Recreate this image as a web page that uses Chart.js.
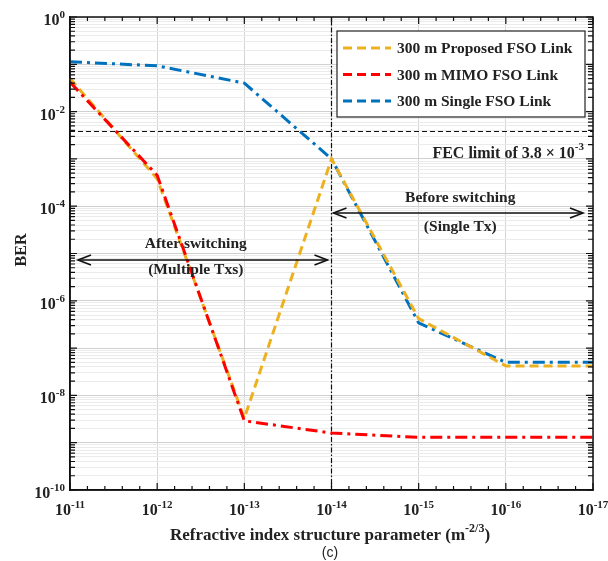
<!DOCTYPE html>
<html>
<head>
<meta charset="utf-8">
<script src="https://cdn.jsdelivr.net/npm/chart.js@4.4.0/dist/chart.umd.min.js"></script>
<style>
html,body{margin:0;padding:0;background:#fff;}
#wrap{width:608px;height:561px;position:relative;}
</style>
</head>
<body>
<div id="wrap"><canvas id="c" width="608" height="561"></canvas></div>
<script>
// ---- data ----
const xExponents = [-11, -12, -13, -14, -15, -16, -17];
const xLabels = xExponents.map(e => '10^' + e);
const proposedBER = [5.0e-2, 3.8e-4, 3.3e-9, 1.0e-3, 4.2e-7, 4.2e-8, 4.2e-8];
const mimoBER     = [4.2e-2, 4.5e-4, 2.9e-9, 1.6e-9, 1.3e-9, 1.3e-9, 1.3e-9];
const singleBER   = [1.13e-1, 9.3e-2, 4.0e-2, 1.0e-3, 3.4e-7, 5.0e-8, 5.0e-8];
const seriesNames = ['300 m Proposed FSO Link', '300 m MIMO FSO Link', '300 m Single FSO Link'];
const yTickExponents = [0, -2, -4, -6, -8, -10];
const yMinExp = -10, yMaxExp = 0;
const fecLimit = 3.8e-3;
const switchIndex = 3;
const afterArrowY = 7.3e-6;
const beforeArrowY = 7.2e-5;

const SERIF = '"Liberation Serif", "Times New Roman", serif';
const COLORS = ['#EDB120', '#FF0000', '#0072BD'];
const DASHES = [[9, 5], [12, 5, 3, 5], [12, 5, 3, 5]];

function drawPow(ctx, x, y, exp, align, baseSize, expSize, rise) {
  ctx.save();
  ctx.fillStyle = '#222';
  ctx.textBaseline = 'alphabetic';
  ctx.font = 'bold ' + baseSize + 'px ' + SERIF;
  const w1 = ctx.measureText('10').width;
  ctx.font = 'bold ' + expSize + 'px ' + SERIF;
  const eStr = String(exp);
  const w2 = ctx.measureText(eStr).width;
  let x0;
  if (align === 'center') x0 = x - (w1 + w2) / 2;
  else if (align === 'right') x0 = x - (w1 + w2);
  else x0 = x;
  ctx.textAlign = 'left';
  ctx.font = 'bold ' + baseSize + 'px ' + SERIF;
  ctx.fillText('10', x0, y);
  ctx.font = 'bold ' + expSize + 'px ' + SERIF;
  ctx.fillText(eStr, x0 + w1, y - rise);
  ctx.restore();
}

function arrowHead(ctx, x, y, dir) {
  ctx.beginPath();
  ctx.moveTo(x + dir * 13, y - 5);
  ctx.lineTo(x, y);
  ctx.lineTo(x + dir * 13, y + 5);
  ctx.stroke();
}

const decorPlugin = {
  id: 'decor',
  beforeDatasetsDraw(chart) {
    const {ctx, chartArea: a, scales: {x, y}} = chart;
    ctx.save();
    ctx.strokeStyle = '#111';
    ctx.lineWidth = 1.2;
    ctx.setLineDash([5, 3]);
    const fy = y.getPixelForValue(fecLimit);
    ctx.beginPath(); ctx.moveTo(a.left, fy); ctx.lineTo(a.right, fy); ctx.stroke();
    const sx = x.getPixelForValue(switchIndex);
    ctx.setLineDash([5, 2, 1.5, 2]);
    ctx.beginPath(); ctx.moveTo(sx, a.top); ctx.lineTo(sx, a.bottom); ctx.stroke();
    ctx.restore();
  },
  afterDraw(chart) {
    const {ctx, chartArea: a, scales: {x, y}} = chart;
    ctx.save();
    // ticks (inside, all four sides)
    ctx.strokeStyle = '#111';
    ctx.lineWidth = 1.2;
    ctx.setLineDash([]);
    const n = xExponents.length;
    for (let i = 0; i < n; i++) {
      const px = x.getPixelForValue(i);
      ctx.beginPath();
      ctx.moveTo(px, a.bottom); ctx.lineTo(px, a.bottom - 7);
      ctx.moveTo(px, a.top); ctx.lineTo(px, a.top + 7);
      ctx.stroke();
      if (i < n - 1) {
        const nx = x.getPixelForValue(i + 1);
        for (let k = 1; k < 5; k++) {
          const mx = px + (nx - px) * k / 5;
          ctx.beginPath();
          ctx.moveTo(mx, a.bottom); ctx.lineTo(mx, a.bottom - 4);
          ctx.moveTo(mx, a.top); ctx.lineTo(mx, a.top + 4);
          ctx.stroke();
        }
      }
    }
    for (let e = yMinExp; e <= yMaxExp; e++) {
      const py = y.getPixelForValue(Math.pow(10, e));
      ctx.beginPath();
      ctx.moveTo(a.left, py); ctx.lineTo(a.left + 7, py);
      ctx.moveTo(a.right, py); ctx.lineTo(a.right - 7, py);
      ctx.stroke();
      if (e < yMaxExp) {
        for (let k = 2; k <= 9; k++) {
          const my = y.getPixelForValue(k * Math.pow(10, e));
          ctx.beginPath();
          ctx.moveTo(a.left, my); ctx.lineTo(a.left + 5, my);
          ctx.moveTo(a.right, my); ctx.lineTo(a.right - 5, my);
          ctx.stroke();
        }
      }
    }
    // tick labels
    for (let i = 0; i < n; i++) {
      drawPow(ctx, x.getPixelForValue(i), a.bottom + 25, xExponents[i], 'center', 16, 11, 7);
    }
    yTickExponents.forEach(e => {
      drawPow(ctx, a.left - 5, y.getPixelForValue(Math.pow(10, e)) + 8, e, 'right', 16, 11, 7);
    });
    // axis titles
    ctx.fillStyle = '#222';
    ctx.textBaseline = 'alphabetic';
    ctx.font = 'bold 17px ' + SERIF;
    const t1 = 'Refractive index structure parameter (m';
    ctx.textAlign = 'left';
    const w1 = ctx.measureText(t1).width;
    ctx.font = 'bold 12px ' + SERIF;
    const ex = '-2/3';
    const w2 = ctx.measureText(ex).width;
    ctx.font = 'bold 17px ' + SERIF;
    const w3 = ctx.measureText(')').width;
    const tx0 = 330 - (w1 + w2 + w3) / 2;
    const ty = 540;
    ctx.fillText(t1, tx0, ty);
    ctx.font = 'bold 12px ' + SERIF;
    ctx.fillText(ex, tx0 + w1, ty - 8);
    ctx.font = 'bold 17px ' + SERIF;
    ctx.fillText(')', tx0 + w1 + w2, ty);
    ctx.font = '14px "Liberation Sans", Arial, sans-serif';
    ctx.textAlign = 'center';
    ctx.fillText('(c)', 330, 557);
    ctx.save();
    ctx.translate(26, 250);
    ctx.rotate(-Math.PI / 2);
    ctx.font = 'bold 16px ' + SERIF;
    ctx.textAlign = 'center';
    ctx.fillText('BER', 0, 0);
    ctx.restore();

    // arrows & annotations
    const sx = x.getPixelForValue(switchIndex);
    ctx.strokeStyle = '#111';
    ctx.lineWidth = 1.6;
    const ay = y.getPixelForValue(afterArrowY);
    ctx.beginPath(); ctx.moveTo(a.left + 8, ay); ctx.lineTo(sx - 4, ay); ctx.stroke();
    arrowHead(ctx, a.left + 8, ay, 1);
    arrowHead(ctx, sx - 4, ay, -1);
    const by = y.getPixelForValue(beforeArrowY);
    ctx.beginPath(); ctx.moveTo(sx + 2, by); ctx.lineTo(a.right - 10, by); ctx.stroke();
    arrowHead(ctx, sx + 2, by, 1);
    arrowHead(ctx, a.right - 10, by, -1);
    ctx.font = 'bold 15.5px ' + SERIF;
    ctx.textAlign = 'center';
    ctx.textBaseline = 'middle';
    const amid = (a.left + sx) / 2 - 5;
    ctx.fillText('After switching', amid, ay - 16);
    ctx.fillText('(Multiple Txs)', amid, ay + 10);
    const bmid = (sx + a.right) / 2 - 2;
    ctx.fillText('Before switching', bmid, by - 15);
    ctx.fillText('(Single Tx)', bmid, by + 14);
    // FEC label
    const fy = y.getPixelForValue(fecLimit);
    ctx.textBaseline = 'alphabetic';
    ctx.textAlign = 'left';
    ctx.font = 'bold 16px ' + SERIF;
    const f1 = 'FEC limit of 3.8 \u00D7 10';
    const fw1 = ctx.measureText(f1).width;
    ctx.font = 'bold 11px ' + SERIF;
    const fw2 = ctx.measureText('-3').width;
    const fx0 = a.right - 9 - fw1 - fw2;
    ctx.font = 'bold 16px ' + SERIF;
    ctx.fillText(f1, fx0, fy + 27);
    ctx.font = 'bold 11px ' + SERIF;
    ctx.fillText('-3', fx0 + fw1, fy + 19);

    // legend
    const lx = 337, lyTop = 31, lw = 248, lh = 86;
    ctx.fillStyle = '#fff';
    ctx.fillRect(lx, lyTop, lw, lh);
    ctx.strokeStyle = '#222';
    ctx.lineWidth = 1.2;
    ctx.strokeRect(lx, lyTop, lw, lh);
    chart.data.datasets.forEach((ds, i) => {
      const ly = 48 + i * 26.5;
      ctx.strokeStyle = ds.borderColor;
      ctx.lineWidth = 3;
      ctx.setLineDash([9, 5]);
      ctx.beginPath(); ctx.moveTo(343, ly); ctx.lineTo(391, ly); ctx.stroke();
      ctx.setLineDash([]);
      ctx.fillStyle = '#222';
      ctx.font = 'bold 15.5px ' + SERIF;
      ctx.textBaseline = 'middle';
      ctx.textAlign = 'left';
      ctx.fillText(ds.label, 397, ly + 1);
    });
    ctx.restore();
  }
};

const datasets = [proposedBER, mimoBER, singleBER].map((d, i) => ({
  label: seriesNames[i],
  data: d,
  borderColor: COLORS[i],
  backgroundColor: COLORS[i],
  borderWidth: 3,
  borderDash: DASHES[i],
  pointRadius: 0,
  tension: 0,
  fill: false,
  order: [1, 0, 2][i]
}));

new Chart(document.getElementById('c'), {
  type: 'line',
  data: { labels: xLabels, datasets },
  options: {
    responsive: false,
    animation: false,
    devicePixelRatio: 1,
    layout: { padding: { left: 70, top: 17, right: 15, bottom: 71 } },
    plugins: { legend: { display: false }, tooltip: { enabled: false } },
    scales: {
      x: {
        type: 'category',
        offset: false,
        grid: { color: '#d4d4d4', lineWidth: 1, drawTicks: false },
        border: { display: true, color: '#111', width: 1.5 },
        ticks: { display: false }
      },
      y: {
        type: 'logarithmic',
        min: Math.pow(10, yMinExp),
        max: Math.pow(10, yMaxExp),
        afterBuildTicks(scale) {
          const t = [];
          for (let e = yMinExp; e < yMaxExp; e++) {
            for (let k = 1; k <= 9; k++) t.push({ value: k * Math.pow(10, e) });
          }
          t.push({ value: Math.pow(10, yMaxExp) });
          scale.ticks = t;
        },
        grid: {
          drawTicks: false,
          color(ctx) {
            const v = ctx.tick ? ctx.tick.value : 1;
            const l = Math.log10(v);
            return Math.abs(l - Math.round(l)) < 1e-6 ? '#d0d0d0' : '#ebebeb';
          },
          lineWidth: 1
        },
        border: { display: true, color: '#111', width: 1.5 },
        ticks: { display: false }
      }
    }
  },
  plugins: [decorPlugin, {
    id: 'frame',
    afterDraw(chart) {
      const {ctx, chartArea: a} = chart;
      ctx.save();
      ctx.strokeStyle = '#111';
      ctx.lineWidth = 1.5;
      ctx.strokeRect(a.left, a.top, a.right - a.left, a.bottom - a.top);
      ctx.restore();
    }
  }]
});
</script>
</body>
</html>
